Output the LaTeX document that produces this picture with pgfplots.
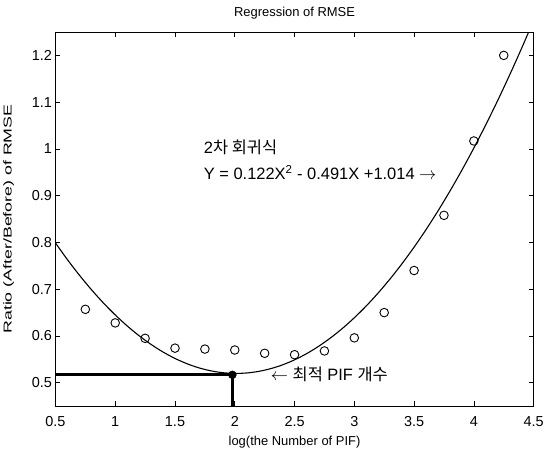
\documentclass[border=0pt]{standalone}
\usepackage{fontspec}
\setmainfont{Liberation Sans}
\newfontfamily\kr{Noto Sans CJK KR}
\usepackage{graphicx}
\usepackage{pgfplots}
\pgfplotsset{compat=1.18}
\begin{document}
\begin{tikzpicture}
\begin{axis}[scale only axis,width=478bp,height=374bp,
xmin=0.5,xmax=4.5,ymin=0.45,ymax=1.25,
xtick={0.5,1,...,4.5},ytick={0.5,0.6,...,1.2},
xticklabel style={/pgf/number format/fixed,yshift=-7bp},
yticklabel style={/pgf/number format/fixed},
/pgf/number format/assume math mode=true,
tick align=inside,major tick length=5bp,
tick style={black,line width=0.6pt},
axis line style={line width=0.8pt},
ticklabel style={font=\fontsize{14.5}{16}\selectfont},
title={Regression of RMSE},title style={font=\fontsize{13}{15}\selectfont,yshift=3bp},
xlabel={log(the Number of PIF)},xlabel style={font=\fontsize{13}{15}\selectfont,yshift=-2bp},
ylabel={\scalebox{1.55}[1]{Ratio (After/Before) of RMSE}},ylabel style={font=\fontsize{11.5}{13}\selectfont,yshift=11bp},
clip=true]
% quadratic fit, values read at 0.1 steps
\addplot[black,line width=1.1pt,smooth] coordinates {
(0.5,0.799)(0.6,0.7633)(0.7,0.7301)(0.8,0.6993)(0.9,0.6709)(1.0,0.645)
(1.1,0.6215)(1.2,0.6005)(1.3,0.5819)(1.4,0.5657)(1.5,0.552)(1.6,0.5407)
(1.7,0.5319)(1.8,0.5255)(1.9,0.5215)(2.0,0.520)(2.1,0.5209)(2.2,0.5243)
(2.3,0.5301)(2.4,0.5383)(2.5,0.549)(2.6,0.5621)(2.7,0.5777)(2.8,0.5957)
(2.9,0.6161)(3.0,0.639)(3.1,0.6643)(3.2,0.6921)(3.3,0.7223)(3.4,0.7549)
(3.5,0.790)(3.6,0.8275)(3.7,0.8675)(3.8,0.9099)(3.9,0.9547)(4.0,1.002)
(4.1,1.0517)(4.2,1.1039)(4.3,1.1585)(4.4,1.2155)(4.5,1.275)};
% measured ratios
\addplot[only marks,mark=o,mark size=4.3pt,black,line width=0.9pt] coordinates {
(0.75,0.657)(1.0,0.628)(1.25,0.595)(1.5,0.574)(1.75,0.572)(2.0,0.570)
(2.25,0.563)(2.5,0.560)(2.75,0.568)(3.0,0.596)(3.25,0.650)(3.5,0.740)
(3.75,0.858)(4.0,1.017)(4.25,1.200)};
% optimum marker lines
\addplot[black,line width=3pt] coordinates {(0.5,0.517)(1.98,0.517)(1.98,0.45)};
\addplot[only marks,mark=*,mark size=4pt,black] coordinates {(1.98,0.517)};
\node[anchor=west,inner sep=0pt,font=\fontsize{16.5}{18}\selectfont] at (axis cs:1.74,1.004) {2{\kr 차 회귀식}};
\node[anchor=west,inner sep=0pt,font=\fontsize{16.5}{18}\selectfont] at (axis cs:1.74,0.949) {Y = 0.122X\textsuperscript{2} - 0.491X +1.014 $\rightarrow$};
\node[anchor=west,inner sep=0pt,font=\fontsize{16.5}{18}\selectfont] at (axis cs:2.30,0.519) {$\leftarrow$ {\kr 최적} PIF {\kr 개수}};
\end{axis}
\path (current axis.north) ++(0,32bp);
\end{tikzpicture}
\end{document}
